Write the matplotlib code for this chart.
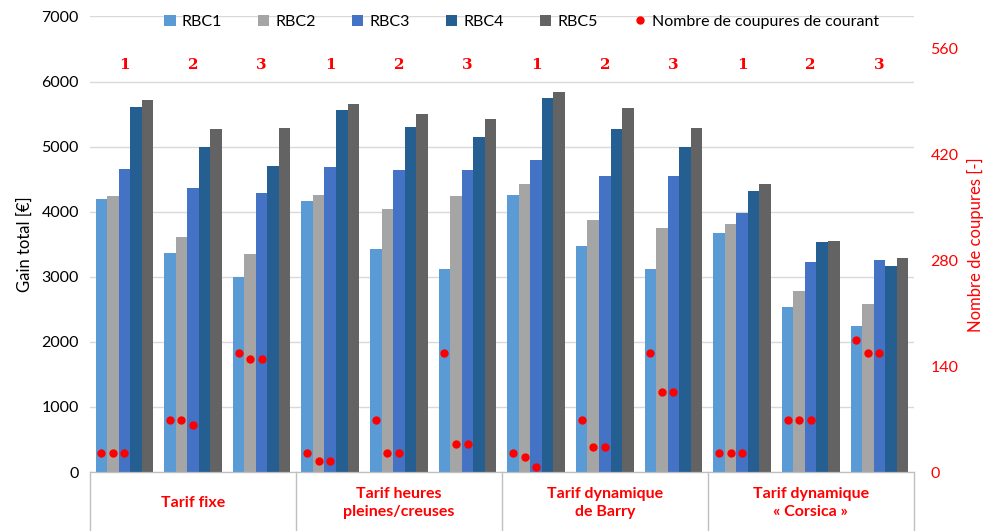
import matplotlib
matplotlib.use("Agg")
import matplotlib.pyplot as plt
import matplotlib.transforms as mtransforms
import numpy as np

plt.rcParams["font.family"] = ["Lato", "DejaVu Sans"]

SERIES = ["RBC1", "RBC2", "RBC3", "RBC4", "RBC5"]
COLORS = ["#5B9BD5", "#A5A5A5", "#4472C4", "#255E91", "#636363"]

TARIFS = [
    "Tarif fixe",
    "Tarif heures\npleines/creuses",
    "Tarif dynamique\nde Barry",
    "Tarif dynamique\n« Corsica »",
]
SUB_LABELS = ["1", "2", "3"] * 4

# gain total per scenario (12 groups), one list per RBC
RBC1 = [4195, 3364, 2990, 4169, 3426, 3118, 4256, 3477, 3118, 3677, 2533, 2246]
RBC2 = [4241, 3605, 3349, 4256, 4046, 4236, 4426, 3867, 3744, 3810, 2785, 2576]
RBC3 = [4657, 4364, 4282, 4687, 4646, 4641, 4800, 4544, 4554, 3974, 3231, 3262]
RBC4 = [5605, 4995, 4697, 5564, 5303, 5149, 5754, 5272, 4990, 4323, 3528, 3159]
RBC5 = [5713, 5277, 5287, 5656, 5508, 5421, 5846, 5590, 5287, 4431, 3549, 3287]

# nombre de coupures (RBC1, RBC2, RBC3) per scenario
CUTS_RBC1 = [25, 69, 157, 25, 69, 157, 25, 69, 157, 25, 69, 175]
CUTS_RBC2 = [25, 69, 150, 14, 25, 37, 20, 33, 106, 25, 69, 157]
CUTS_RBC3 = [25, 62, 150, 14, 25, 37, 7, 33, 106, 25, 69, 157]

RED = "#FF0000"

fig = plt.figure(figsize=(9.84, 5.31), dpi=100)
ax = fig.add_axes([0.0915, 0.111, 0.837, 0.858])
ax2 = ax.twinx()

x = np.arange(len(RBC1))
width = 0.168
values = [RBC1, RBC2, RBC3, RBC4, RBC5]
for j, (name, vals, col) in enumerate(zip(SERIES, values, COLORS)):
    ax.bar(x + (j - 2) * width, vals, width, color=col, label=name, zorder=2)

cuts = [CUTS_RBC1, CUTS_RBC2, CUTS_RBC3]
for j, c in enumerate(cuts):
    ax2.plot(x + (j - 2) * width, c, "o", color=RED, markersize=5,
             linestyle="none", zorder=3,
             label="Nombre de coupures de courant" if j == 0 else None)

ax.set_xlim(-0.5, len(x) - 0.5)
ax.set_ylim(0, 7000)
ax.set_yticks(range(0, 7001, 1000))
ax2.set_ylim(0, 602)
ax2.set_yticks(range(0, 561, 140))

ax.grid(axis="y", color="#D9D9D9", linewidth=1, zorder=0)
ax.set_axisbelow(True)
for a in (ax, ax2):
    for s in ("top", "left", "right"):
        a.spines[s].set_visible(False)
    a.spines["bottom"].set_color("#BFBFBF")
ax.set_xticks([])
ax.tick_params(axis="y", length=0, labelsize=11.5, pad=8)
ax2.tick_params(axis="y", length=0, labelsize=11.5, colors=RED, pad=12)

ax.set_ylabel("Gain total [€]", fontsize=12, labelpad=6)
ax2.set_ylabel("Nombre de coupures [-]", fontsize=12, color=RED, labelpad=6)

# sub-scenario numbers
for xi, lab in zip(x, SUB_LABELS):
    ax.text(xi, 6260, lab, color=RED, fontsize=11, fontweight="bold",
            family="DejaVu Serif", ha="center", va="center")

# category box under the axis
trans = mtransforms.blended_transform_factory(ax.transData, ax.transAxes)
for b in np.arange(-0.5, len(x), 3):
    ax.plot([b, b], [0, -0.13], transform=trans, color="#BFBFBF",
            linewidth=1, clip_on=False)
for k, t in enumerate(TARIFS):
    ax.text(3 * k + 1, -0.068, t, transform=trans, color=RED, fontsize=11.5,
            fontweight="bold", ha="center", va="center", linespacing=1.3)

h1, l1 = ax.get_legend_handles_labels()
h2, l2 = ax2.get_legend_handles_labels()
leg = ax.legend(h1 + h2, l1 + l2, loc="upper center", ncol=6, frameon=False,
                bbox_to_anchor=(0.524, 1.035), fontsize=11.5, handlelength=0.7,
                handleheight=0.7, columnspacing=2.25, handletextpad=0.4)

fig.savefig("out.png", dpi=100)
